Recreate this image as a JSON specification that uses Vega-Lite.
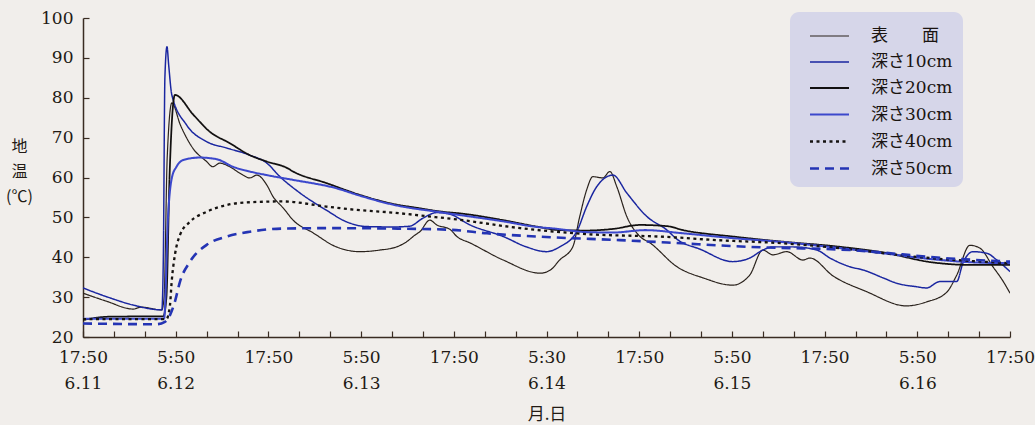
{
  "$schema": "https://vega.github.io/schema/vega-lite/v6.json",
  "width": 927,
  "height": 319,
  "autosize": {"type": "none"},
  "padding": {"left": 83, "top": 18, "right": 25, "bottom": 88},
  "background": "#f1eeeb",
  "config": {"view": {"stroke": null}},
  "data": {"values": [
    {"s":"表　　面","h":0,"t":31},{"s":"表　　面","h":3,"t":29},{"s":"表　　面","h":6.5,"t":27},{"s":"表　　面","h":7.5,"t":27.5},{"s":"表　　面","h":10.2,"t":26.8},{"s":"表　　面","h":10.5,"t":30},{"s":"表　　面","h":10.9,"t":65},{"s":"表　　面","h":11.5,"t":78.7},{"s":"表　　面","h":12.6,"t":73.2},{"s":"表　　面","h":14.2,"t":67.4},{"s":"表　　面","h":16.0,"t":64},{"s":"表　　面","h":16.8,"t":62.7},{"s":"表　　面","h":17.7,"t":63.6},{"s":"表　　面","h":19.0,"t":62.7},{"s":"表　　面","h":20.3,"t":61.1},{"s":"表　　面","h":21.6,"t":59.9},{"s":"表　　面","h":22.5,"t":60.6},{"s":"表　　面","h":23.8,"t":58.1},{"s":"表　　面","h":24.6,"t":55.2},{"s":"表　　面","h":25.9,"t":52.4},{"s":"表　　面","h":27.2,"t":49.3},{"s":"表　　面","h":29.8,"t":46.1},{"s":"表　　面","h":32.8,"t":42.6},{"s":"表　　面","h":35.9,"t":41.4},{"s":"表　　面","h":38.4,"t":41.8},{"s":"表　　面","h":40.6,"t":42.6},{"s":"表　　面","h":41.9,"t":43.9},{"s":"表　　面","h":43.0,"t":45.6},{"s":"表　　面","h":43.6,"t":46.4},{"s":"表　　面","h":44.9,"t":49.3},{"s":"表　　面","h":45.8,"t":48.1},{"s":"表　　面","h":47.5,"t":47.0},{"s":"表　　面","h":48.4,"t":45.2},{"s":"表　　面","h":50.1,"t":43.6},{"s":"表　　面","h":54.4,"t":39.3},{"s":"表　　面","h":59.2,"t":36},{"s":"表　　面","h":60.5,"t":36.8},{"s":"表　　面","h":61.7,"t":39.3},{"s":"表　　面","h":63.4,"t":42.6},{"s":"表　　面","h":64.3,"t":50.2},{"s":"表　　面","h":65.2,"t":56.9},{"s":"表　　面","h":66.0,"t":60.2},{"s":"表　　面","h":67.3,"t":59.9},{"s":"表　　面","h":68.2,"t":61.5},{"s":"表　　面","h":69.1,"t":57.7},{"s":"表　　面","h":70.4,"t":50.2},{"s":"表　　面","h":72.1,"t":45.2},{"s":"表　　面","h":73.4,"t":43.6},{"s":"表　　面","h":76.9,"t":37.6},{"s":"表　　面","h":80.3,"t":34.8},{"s":"表　　面","h":84.1,"t":33},{"s":"表　　面","h":86.3,"t":35.5},{"s":"表　　面","h":88.0,"t":41.8},{"s":"表　　面","h":89.3,"t":40.6},{"s":"表　　面","h":91.1,"t":41.4},{"s":"表　　面","h":93.2,"t":39.3},{"s":"表　　面","h":94.1,"t":39.8},{"s":"表　　面","h":97.1,"t":35.3},{"s":"表　　面","h":101.4,"t":31.4},{"s":"表　　面","h":106.6,"t":27.8},{"s":"表　　面","h":109.2,"t":28.8},{"s":"表　　面","h":111.8,"t":31.2},{"s":"表　　面","h":113.1,"t":35.5},{"s":"表　　面","h":114.8,"t":43},{"s":"表　　面","h":116.1,"t":42.3},{"s":"表　　面","h":117.8,"t":37.6},{"s":"表　　面","h":119.1,"t":34},{"s":"表　　面","h":120,"t":31},

    {"s":"深さ10cm","h":0,"t":32.3},{"s":"深さ10cm","h":3.5,"t":29.8},{"s":"深さ10cm","h":6.5,"t":28},{"s":"深さ10cm","h":10.2,"t":26.8},{"s":"深さ10cm","h":10.4,"t":40},{"s":"深さ10cm","h":10.6,"t":85},{"s":"深さ10cm","h":10.87,"t":92.8},{"s":"深さ10cm","h":11.1,"t":88},{"s":"深さ10cm","h":11.5,"t":80.7},{"s":"深さ10cm","h":13.4,"t":73.2},{"s":"深さ10cm","h":16.0,"t":69},{"s":"深さ10cm","h":18.6,"t":67.4},{"s":"深さ10cm","h":21.6,"t":65.6},{"s":"深さ10cm","h":23.8,"t":63.6},{"s":"深さ10cm","h":25.5,"t":60.2},{"s":"深さ10cm","h":28.1,"t":56.1},{"s":"深さ10cm","h":31.5,"t":51.8},{"s":"深さ10cm","h":34.1,"t":48.9},{"s":"深さ10cm","h":36.7,"t":47.7},{"s":"深さ10cm","h":40.1,"t":47.6},{"s":"深さ10cm","h":42.3,"t":47.8},{"s":"深さ10cm","h":44.0,"t":49.8},{"s":"深さ10cm","h":45.8,"t":51.2},{"s":"深さ10cm","h":47.5,"t":50.8},{"s":"深さ10cm","h":50.1,"t":48.1},{"s":"深さ10cm","h":54.4,"t":45.2},{"s":"深さ10cm","h":57.4,"t":42.6},{"s":"深さ10cm","h":60.0,"t":41.4},{"s":"深さ10cm","h":61.7,"t":42.6},{"s":"深さ10cm","h":63.9,"t":46.4},{"s":"深さ10cm","h":65.2,"t":52.7},{"s":"深さ10cm","h":66.5,"t":57.7},{"s":"深さ10cm","h":68.6,"t":60.6},{"s":"深さ10cm","h":70.4,"t":56.1},{"s":"深さ10cm","h":73.0,"t":50.2},{"s":"深さ10cm","h":75.6,"t":46.8},{"s":"深さ10cm","h":76.9,"t":44.5},{"s":"深さ10cm","h":79.9,"t":42.0},{"s":"深さ10cm","h":84.1,"t":38.9},{"s":"深さ10cm","h":86.3,"t":39.8},{"s":"深さ10cm","h":88.0,"t":41.8},{"s":"深さ10cm","h":89.3,"t":42.6},{"s":"深さ10cm","h":91.9,"t":42.6},{"s":"深さ10cm","h":95.0,"t":41.8},{"s":"深さ10cm","h":96.7,"t":39.8},{"s":"深さ10cm","h":99.3,"t":37.6},{"s":"深さ10cm","h":101.0,"t":36.8},{"s":"深さ10cm","h":103.6,"t":34.8},{"s":"深さ10cm","h":105.3,"t":33.5},{"s":"深さ10cm","h":107.9,"t":32.6},{"s":"深さ10cm","h":109.2,"t":32.3},{"s":"深さ10cm","h":110.9,"t":33.9},{"s":"深さ10cm","h":113.1,"t":33.9},{"s":"深さ10cm","h":113.9,"t":38.5},{"s":"深さ10cm","h":115.2,"t":41.4},{"s":"深さ10cm","h":117.0,"t":41},{"s":"深さ10cm","h":118.3,"t":39.3},{"s":"深さ10cm","h":120,"t":36.4},

    {"s":"深さ20cm","h":0,"t":24.3},{"s":"深さ20cm","h":3.5,"t":25.1},{"s":"深さ20cm","h":10.4,"t":25.2},{"s":"深さ20cm","h":10.8,"t":30},{"s":"深さ20cm","h":11.2,"t":60},{"s":"深さ20cm","h":11.9,"t":80.7},{"s":"深さ20cm","h":14.3,"t":75.7},{"s":"深さ20cm","h":16.4,"t":71.5},{"s":"深さ20cm","h":19.0,"t":68.6},{"s":"深さ20cm","h":21.6,"t":65.6},{"s":"深さ20cm","h":23.8,"t":64},{"s":"深さ20cm","h":26.4,"t":62.4},{"s":"深さ20cm","h":27.2,"t":61.5},{"s":"深さ20cm","h":31.5,"t":58.6},{"s":"深さ20cm","h":35.9,"t":55.6},{"s":"深さ20cm","h":40.1,"t":53.4},{"s":"深さ20cm","h":43.2,"t":52.4},{"s":"深さ20cm","h":46.6,"t":51.4},{"s":"深さ20cm","h":48.8,"t":51},{"s":"深さ20cm","h":54.4,"t":49.3},{"s":"深さ20cm","h":58.7,"t":47.7},{"s":"深さ20cm","h":61.7,"t":46.8},{"s":"深さ20cm","h":65.2,"t":46.7},{"s":"深さ20cm","h":68.6,"t":47.1},{"s":"深さ20cm","h":72.1,"t":48.1},{"s":"深さ20cm","h":75.6,"t":47.8},{"s":"深さ20cm","h":77.7,"t":46.8},{"s":"深さ20cm","h":84.1,"t":45.2},{"s":"深さ20cm","h":90.6,"t":43.9},{"s":"深さ20cm","h":97.1,"t":42.8},{"s":"深さ20cm","h":103.6,"t":41.2},{"s":"深さ20cm","h":110.0,"t":38.7},{"s":"深さ20cm","h":114.4,"t":38.1},{"s":"深さ20cm","h":120,"t":38.1},

    {"s":"深さ30cm","h":0,"t":24.6},{"s":"深さ30cm","h":10.5,"t":24.6},{"s":"深さ30cm","h":11.0,"t":50},{"s":"深さ30cm","h":11.5,"t":59.9},{"s":"深さ30cm","h":12.1,"t":62.7},{"s":"深さ30cm","h":13.0,"t":64.4},{"s":"深さ30cm","h":15.1,"t":65},{"s":"深さ30cm","h":17.3,"t":64.6},{"s":"深さ30cm","h":19.4,"t":62.7},{"s":"深さ30cm","h":21.6,"t":61.5},{"s":"深さ30cm","h":23.8,"t":60.6},{"s":"深さ30cm","h":27.2,"t":59.4},{"s":"深さ30cm","h":32.8,"t":57.3},{"s":"深さ30cm","h":35.9,"t":55.4},{"s":"深さ30cm","h":40.1,"t":53.2},{"s":"深さ30cm","h":46.6,"t":51.2},{"s":"深さ30cm","h":54.4,"t":49.0},{"s":"深さ30cm","h":58.7,"t":47.6},{"s":"深さ30cm","h":61.0,"t":47.2},{"s":"深さ30cm","h":65.2,"t":46.3},{"s":"深さ30cm","h":68.6,"t":46.2},{"s":"深さ30cm","h":72.8,"t":46.8},{"s":"深さ30cm","h":77.7,"t":46.0},{"s":"深さ30cm","h":84.1,"t":44.8},{"s":"深さ30cm","h":90.6,"t":43.8},{"s":"深さ30cm","h":97.1,"t":42.5},{"s":"深さ30cm","h":103.6,"t":41.0},{"s":"深さ30cm","h":110.0,"t":39.5},{"s":"深さ30cm","h":114.4,"t":38.8},{"s":"深さ30cm","h":120,"t":38.5},

    {"s":"深さ40cm","h":0,"t":24.5},{"s":"深さ40cm","h":10.8,"t":24.5},{"s":"深さ40cm","h":11.26,"t":28},{"s":"深さ40cm","h":11.48,"t":33.9},{"s":"深さ40cm","h":11.9,"t":40.6},{"s":"深さ40cm","h":12.56,"t":45.6},{"s":"深さ40cm","h":13.85,"t":48.9},{"s":"深さ40cm","h":16.0,"t":51.4},{"s":"深さ40cm","h":18.6,"t":53.1},{"s":"深さ40cm","h":21.6,"t":53.8},{"s":"深さ40cm","h":25.9,"t":54},{"s":"深さ40cm","h":31.5,"t":52.7},{"s":"深さ40cm","h":35.9,"t":51.8},{"s":"深さ40cm","h":40.1,"t":51.2},{"s":"深さ40cm","h":44.5,"t":50.3},{"s":"深さ40cm","h":47.9,"t":49.6},{"s":"深さ40cm","h":56.6,"t":47.3},{"s":"深さ40cm","h":65.2,"t":45.8},{"s":"深さ40cm","h":75.6,"t":45.1},{"s":"深さ40cm","h":82.0,"t":44.3},{"s":"深さ40cm","h":90.6,"t":43.5},{"s":"深さ40cm","h":99.3,"t":42},{"s":"深さ40cm","h":107.9,"t":40.1},{"s":"深さ40cm","h":120,"t":38.5},

    {"s":"深さ50cm","h":0,"t":23.4},{"s":"深さ50cm","h":9.5,"t":23.2},{"s":"深さ50cm","h":10.6,"t":23.8},{"s":"深さ50cm","h":11.26,"t":25.5},{"s":"深さ50cm","h":11.9,"t":28.9},{"s":"深さ50cm","h":12.56,"t":33.9},{"s":"深さ50cm","h":13.85,"t":38.9},{"s":"深さ50cm","h":16,"t":43.1},{"s":"深さ50cm","h":18.6,"t":45.2},{"s":"深さ50cm","h":21.6,"t":46.4},{"s":"深さ50cm","h":25.9,"t":47.2},{"s":"深さ50cm","h":31.5,"t":47.3},{"s":"深さ50cm","h":40.1,"t":47.2},{"s":"深さ50cm","h":47.5,"t":46.9},{"s":"深さ50cm","h":52.3,"t":46},{"s":"深さ50cm","h":60.8,"t":45},{"s":"深さ50cm","h":69.5,"t":44.3},{"s":"深さ50cm","h":75.6,"t":43.7},{"s":"深さ50cm","h":86.3,"t":42.6},{"s":"深さ50cm","h":99.3,"t":41.8},{"s":"深さ50cm","h":112.2,"t":39.7},{"s":"深さ50cm","h":120,"t":38.9}
  ]},
  "mark": {"type": "line", "interpolate": "monotone", "clip": true},
  "encoding": {
    "x": {
      "field": "h", "type": "quantitative",
      "scale": {"domain": [0, 120], "nice": false, "zero": false},
      "axis": {
        "values": [0,4,8,12,16,20,24,28,32,36,40,44,48,52,56,60,64,68,72,76,80,84,88,92,96,100,104,108,112,116,120],
        "labelExpr": "datum.value == 0 ? ['17:50', '6.11'] : (datum.value % 12 != 0 ? '' : (datum.value % 24 == 0 ? '17:50' : [datum.value == 60 ? '5:30' : '5:50', '6.' + (11 + (datum.value + 12) / 24)]))",
        "grid": false,
        "tickSize": -6,
        "labelPadding": 18,
        "labelFont": "DejaVu Serif",
        "labelFontSize": 17,
        "labelColor": "#221a14",
        "labelLineHeight": 26,
        "labelOverlap": false,
        "labelFlush": false,
        "domainColor": "#3a2c22",
        "domainWidth": 1.5,
        "tickColor": "#3a2c22",
        "tickWidth": 1.2,
        "title": "月.日",
        "titleFont": "Noto Sans CJK JP",
        "titleFontSize": 17,
        "titleFontWeight": "normal",
        "titleColor": "#221a14",
        "titleBaseline": "top",
        "titleY": 69
      }
    },
    "y": {
      "field": "t", "type": "quantitative",
      "scale": {"domain": [20, 100], "nice": false, "zero": false},
      "axis": {
        "values": [20,30,40,50,60,70,80,90,100],
        "grid": false,
        "tickSize": -6,
        "labelPadding": 16,
        "labelFont": "DejaVu Serif",
        "labelFontSize": 17,
        "labelColor": "#221a14",
        "domainColor": "#3a2c22",
        "domainWidth": 1.5,
        "tickColor": "#3a2c22",
        "tickWidth": 1.2,
        "title": ["地", "温", "(℃)"],
        "titleFont": "Noto Sans CJK JP",
        "titleFontSize": 16,
        "titleFontWeight": "normal",
        "titleColor": "#221a14",
        "titleAngle": 0,
        "titleAlign": "center",
        "titleBaseline": "top",
        "titleLineHeight": 25,
        "titleX": -64,
        "titleY": 120
      }
    },
    "color": {
      "field": "s", "type": "nominal",
      "scale": {
        "domain": ["表　　面", "深さ10cm", "深さ20cm", "深さ30cm", "深さ40cm", "深さ50cm"],
        "range": ["#2a221c", "#1a26a0", "#121010", "#3c48cc", "#151210", "#2434b4"]
      },
      "legend": {
        "title": null,
        "orient": "none",
        "legendX": 707,
        "legendY": -6,
        "fillColor": "#d6d6e9",
        "cornerRadius": 9,
        "padding": 10,
        "symbolType": "M-1.5,0H1.5",
        "symbolSize": 676,
        "symbolOffset": 15,
        "labelOffset": 27,
        "rowPadding": 4,
        "labelFont": "DejaVu Serif, Noto Sans CJK JP",
        "labelFontSize": 17,
        "labelColor": "#1a1410",
        "labelLimit": 200
      }
    },
    "strokeDash": {
      "field": "s", "type": "nominal",
      "scale": {
        "domain": ["表　　面", "深さ10cm", "深さ20cm", "深さ30cm", "深さ40cm", "深さ50cm"],
        "range": [[1, 0], [1, 0], [1, 0], [1, 0], [3, 3.5], [9, 6]]
      },
      "legend": {
        "title": null,
        "orient": "none",
        "legendX": 707,
        "legendY": -6,
        "fillColor": "#d6d6e9",
        "cornerRadius": 9,
        "padding": 10,
        "symbolType": "M-1.5,0H1.5",
        "symbolSize": 676,
        "symbolOffset": 15,
        "labelOffset": 27,
        "rowPadding": 4,
        "labelFont": "DejaVu Serif, Noto Sans CJK JP",
        "labelFontSize": 17,
        "labelColor": "#1a1410",
        "labelLimit": 200
      }
    },
    "strokeWidth": {
      "field": "s", "type": "nominal",
      "scale": {
        "domain": ["表　　面", "深さ10cm", "深さ20cm", "深さ30cm", "深さ40cm", "深さ50cm"],
        "range": [1.2, 2.6, 3.2, 1.1, 3, 3.5]
      },
      "legend": {
        "title": null,
        "orient": "none",
        "legendX": 707,
        "legendY": -6,
        "fillColor": "#d6d6e9",
        "cornerRadius": 9,
        "padding": 10,
        "symbolType": "M-1.5,0H1.5",
        "symbolSize": 676,
        "symbolOffset": 15,
        "labelOffset": 27,
        "rowPadding": 4,
        "labelFont": "DejaVu Serif, Noto Sans CJK JP",
        "labelFontSize": 17,
        "labelColor": "#1a1410",
        "labelLimit": 200
      }
    }
  }
}
